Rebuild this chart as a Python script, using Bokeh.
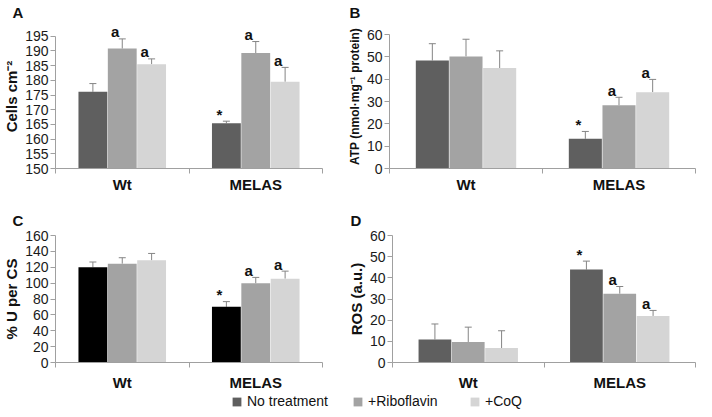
from bokeh.plotting import figure
from bokeh.layouts import column, row
from bokeh.models import (Range1d, FixedTicker, SingleIntervalTicker,
                          ColumnDataSource, Whisker, TeeHead, Legend, LegendItem)
from bokeh.transform import dodge
from bokeh.core.properties import value
from bokeh.embed import file_html
from bokeh.resources import INLINE

FONT = "Liberation Sans"

groups = ["Wt", "MELAS"]
treatments = ["No treatment", "+Riboflavin", "+CoQ"]
colors = ["#5f5f5f", "#a3a3a3", "#d5d5d5"]
colors_c = ["#000000", "#a3a3a3", "#d5d5d5"]

# Panel A: Cells cm-2
a_none = [176.1, 165.4]
a_none_sd = [2.8, 0.7]
a_ribo = [190.8, 189.3]
a_ribo_sd = [3.3, 3.9]
a_coq = [185.5, 179.5]
a_coq_sd = [1.8, 4.9]
a_marks = [["", "*"], ["a", "a"], ["a", "a"]]

# Panel B: ATP
b_none = [48.4, 13.3]
b_none_sd = [7.5, 3.3]
b_ribo = [50.2, 28.3]
b_ribo_sd = [7.7, 3.6]
b_coq = [45.0, 34.2]
b_coq_sd = [7.7, 5.7]
b_marks = [["", "*"], ["", "a"], ["", "a"]]

# Panel C: % U per CS
c_none = [120.0, 70.1]
c_none_sd = [6.6, 6.6]
c_ribo = [124.5, 99.8]
c_ribo_sd = [7.5, 7.4]
c_coq = [128.7, 105.6]
c_coq_sd = [8.7, 9.5]
c_marks = [["", "*"], ["", "a"], ["", "a"]]

# Panel D: ROS
d_none = [10.9, 43.9]
d_none_sd = [7.3, 4.0]
d_ribo = [9.7, 32.5]
d_ribo_sd = [7.0, 3.4]
d_coq = [6.8, 22.0]
d_coq_sd = [8.2, 2.6]
d_marks = [["", "*"], ["", "a"], ["", "a"]]

AXIS_COLOR = "#a0a0a0"
ERR_COLOR = "#858585"
TEXT_COLOR = "#111111"

# category slots: each group occupies one unit on the x scale, centred at i + 0.5
group_pos = [i + 0.5 for i in range(len(groups))]
group_edges = list(range(len(groups) + 1))


def make_panel(letter, ylabel, ylabel_size, y0, y1, step, means, sds, marks, cols,
               width, height, bl, br, bt, bb, group_standoff, title_standoff, headroom=0.0):
    p = figure(x_range=Range1d(0, len(groups)), y_range=Range1d(y0, y1 + headroom),
               width=width, height=height, output_backend="svg", toolbar_location=None,
               min_border_left=bl, min_border_right=br,
               min_border_top=bt, min_border_bottom=bb)
    p.title.text = letter
    p.title.align = "left"
    p.title.offset = -(bl - 1)
    p.title.vertical_align = "top"
    p.title.standoff = title_standoff
    p.title.text_font = FONT
    p.title.text_font_style = "bold"
    p.title.text_font_size = "15px"
    p.title.text_color = TEXT_COLOR

    xaxis = p.xaxis[0]
    xaxis.ticker = FixedTicker(ticks=group_pos, minor_ticks=group_edges)
    xaxis.major_label_overrides = {pos: g for pos, g in zip(group_pos, groups)}
    xaxis.axis_line_color = AXIS_COLOR
    xaxis.major_tick_out = 0
    xaxis.major_tick_in = 0
    xaxis.major_tick_line_color = None
    xaxis.minor_tick_out = 5
    xaxis.minor_tick_in = 0
    xaxis.minor_tick_line_color = AXIS_COLOR
    xaxis.major_label_standoff = group_standoff
    xaxis.axis_label_standoff = 0
    xaxis.major_label_text_font = FONT
    xaxis.major_label_text_font_style = "bold"
    xaxis.major_label_text_font_size = "15px"
    xaxis.major_label_text_color = TEXT_COLOR

    ya = p.yaxis[0]
    ya.ticker = SingleIntervalTicker(interval=step, num_minor_ticks=0)
    ya.bounds = (y0, y1)
    ya.axis_line_color = AXIS_COLOR
    ya.major_tick_line_color = AXIS_COLOR
    ya.major_tick_out = 5
    ya.major_tick_in = 0
    ya.minor_tick_line_color = None
    ya.major_label_standoff = 2
    ya.major_label_text_font = FONT
    ya.major_label_text_font_size = "14px"
    ya.major_label_text_color = "#1a1a1a"
    ya.axis_label = ylabel
    ya.axis_label_standoff = 2
    ya.axis_label_text_font = FONT
    ya.axis_label_text_font_style = "bold"
    ya.axis_label_text_font_size = ylabel_size
    ya.axis_label_text_color = TEXT_COLOR

    p.xgrid.visible = False
    p.ygrid.visible = False
    p.outline_line_color = None

    for k, t in enumerate(treatments):
        upper = [m + s for m, s in zip(means[k], sds[k])]
        src = ColumnDataSource(dict(pos=group_pos, mean=means[k], upper=upper, mark=marks[k]))
        off = (k - 1) * 0.22
        p.vbar(x=dodge("pos", off), top="mean", bottom=y0, width=0.216, source=src,
               fill_color=cols[k], line_color=None)
        w = Whisker(source=src, base=dodge("pos", off), upper="upper",
                    lower="mean", dimension="height", line_color=ERR_COLOR, line_width=1,
                    upper_head=TeeHead(size=7, line_color=ERR_COLOR, line_width=1),
                    lower_head=None)
        p.add_layout(w)
        p.text(x=dodge("pos", off), y="upper", text="mark", source=src,
               text_align="center", text_baseline="alphabetic", x_offset=-7, y_offset=-7,
               text_font=value(FONT), text_font_style="bold", text_font_size="15px",
               text_color=TEXT_COLOR)
    return p


# Row 1 (page y 0..205): A spans x 8..352, B spans 352..704
pA = make_panel("A", "Cells cm\u207b\u00b2", "15px", 150, 195, 5,
                [a_none, a_ribo, a_coq], [a_none_sd, a_ribo_sd, a_coq_sd], a_marks, colors,
                344, 205, 44, 22, 24, 37, 2, 4, headroom=4)
pB = make_panel("B", "ATP (nmol\u00b7mg\u207b\u00b9 protein)", "12px", 0, 60, 10,
                [b_none, b_ribo, b_coq], [b_none_sd, b_ribo_sd, b_coq_sd], b_marks, colors,
                352, 205, 41, 1, 24, 37, 2, 4, headroom=4.5)

# Row 2 (page y 205..393)
pC = make_panel("C", "% U per CS", "15px", 0, 160, 20,
                [c_none, c_ribo, c_coq], [c_none_sd, c_ribo_sd, c_coq_sd], c_marks, colors_c,
                344, 188, 44, 22, 30, 31, 6, 10)
pD = make_panel("D", "ROS (a.u.)", "15px", 0, 60, 10,
                [d_none, d_ribo, d_coq], [d_none_sd, d_ribo_sd, d_coq_sd], d_marks, colors,
                352, 188, 43, 1, 30, 31, 6, 10)

# Legend strip (page y 393..409)
pL = figure(width=696, height=16, x_range=Range1d(0, len(groups)), y_range=Range1d(0, 1),
            output_backend="svg", toolbar_location=None,
            x_axis_location=None, y_axis_location=None, min_border=0)
pL.outline_line_color = None
pL.xgrid.visible = False
pL.ygrid.visible = False
key_src = ColumnDataSource(dict(pos=group_pos, base=[0] * len(groups)))
legend_x = [231, 352, 469]
for k, t in enumerate(treatments):
    key = pL.vbar(x="pos", top="base", bottom="base", width=0.1, source=key_src,
                  fill_color=colors[k], line_color=None)
    pL.add_layout(Legend(items=[LegendItem(label=t, renderers=[key])],
                         location=(legend_x[k], 0), orientation="horizontal",
                         border_line_color=None, background_fill_alpha=0, padding=0,
                         margin=0, glyph_width=11, glyph_height=11, label_standoff=5,
                         label_text_font=FONT, label_text_font_size="14px",
                         label_text_color=TEXT_COLOR, label_height=14))

layout = column(row(pA, pB), row(pC, pD), pL)

open("out.html", "w").write(file_html(layout, INLINE))
